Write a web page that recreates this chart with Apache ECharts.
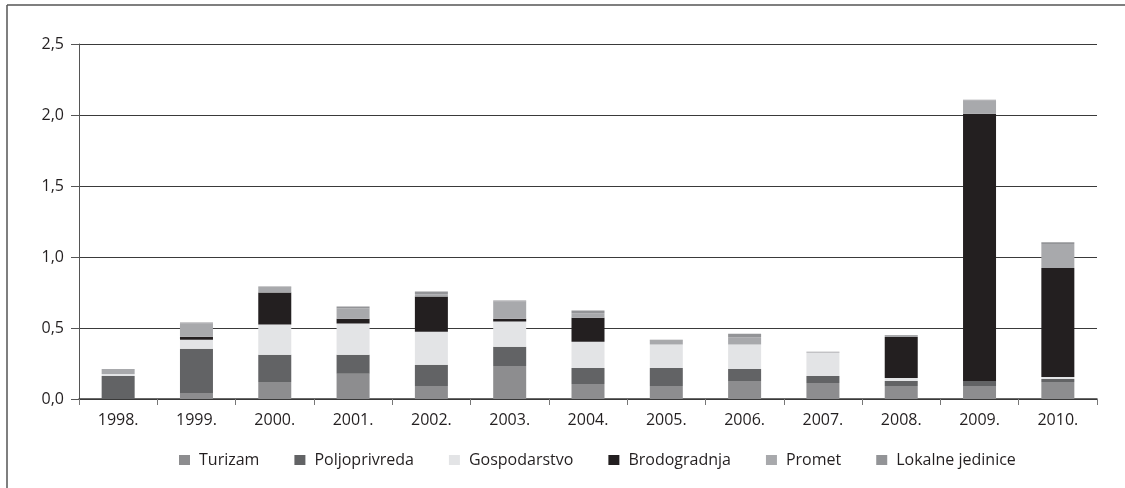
<!DOCTYPE html>
<html>
<head>
<meta charset="utf-8">
<script src="https://cdn.jsdelivr.net/npm/echarts@6/dist/echarts.min.js"></script>
<style>
html,body{margin:0;padding:0;background:#fff;}
#c{width:1125px;height:488px;}
</style>
</head>
<body>
<div id="c"></div>
<script>
var years = ['1998.','1999.','2000.','2001.','2002.','2003.','2004.','2005.','2006.','2007.','2008.','2009.','2010.'];
var seriesNames = ['Turizam','Poljoprivreda','Gospodarstvo','Brodogradnja','Promet','Lokalne jedinice'];
var turizam       = [0.000,0.042,0.120,0.177,0.092,0.233,0.106,0.092,0.127,0.112,0.091,0.091,0.119];
var poljoprivreda = [0.162,0.312,0.191,0.134,0.149,0.135,0.113,0.127,0.085,0.050,0.035,0.035,0.022];
var gospodarstvo  = [0.014,0.063,0.213,0.220,0.233,0.177,0.184,0.165,0.172,0.166,0.022,0.000,0.014];
var brodogradnja  = [0.000,0.022,0.226,0.035,0.248,0.021,0.170,0.000,0.000,0.000,0.288,1.883,0.768];
var promet        = [0.035,0.094,0.033,0.071,0.016,0.122,0.031,0.026,0.050,0.000,0.010,0.094,0.168];
var lokalne       = [0.000,0.005,0.009,0.014,0.019,0.005,0.019,0.007,0.026,0.005,0.004,0.005,0.012];
var colors = ['#8d8d8f','#626365','#e3e4e6','#231f20','#a8a9ac','#939497'];

var dataSets = [turizam, poljoprivreda, gospodarstvo, brodogradnja, promet, lokalne];
var FONT = '"Open Sans", sans-serif';
var chart = echarts.init(document.getElementById('c'));
chart.setOption({
  animation: false,
  backgroundColor: '#ffffff',
  color: colors,
  grid: {left: 79, right: 28, top: 44, bottom: 89, containLabel: false},
  legend: {
    left: 174, top: 447,
    icon: 'rect', itemWidth: 11, itemHeight: 10, itemGap: 35,
    textStyle: {fontFamily: FONT, fontSize: 16, color: '#231f20', padding: [0, 0, 0, 4]},
    data: seriesNames
  },
  graphic: [
    {type: 'line', shape: {x1: 7, y1: 5, x2: 1125, y2: 5}, style: {stroke: '#555', lineWidth: 1.5}},
    {type: 'line', shape: {x1: 7, y1: 5, x2: 7, y2: 488}, style: {stroke: '#555', lineWidth: 1.5}}
  ],
  xAxis: {
    type: 'category',
    data: years,
    axisLine: {show: true, lineStyle: {color: '#3a3a3a', width: 1.5}},
    axisTick: {show: true, length: 6, lineStyle: {color: '#777'}},
    axisLabel: {fontFamily: FONT, fontSize: 16, color: '#231f20', margin: 13}
  },
  yAxis: {
    type: 'value', min: 0, max: 2.5, interval: 0.5,
    axisLine: {show: true, lineStyle: {color: '#555', width: 1}},
    axisTick: {show: true, length: 8, lineStyle: {color: '#555'}},
    splitLine: {show: true, lineStyle: {color: '#3a3a3a', width: 1}},
    axisLabel: {fontFamily: FONT, fontSize: 16, color: '#231f20', margin: 15,
      formatter: function (v) { return v.toFixed(1).replace('.', ','); }}
  },
  series: seriesNames.map(function (n, i) {
    return {name: n, type: 'bar', stack: 'total', barWidth: 33, data: dataSets[i],
      itemStyle: {color: colors[i]}};
  })
});
</script>
</body>
</html>
